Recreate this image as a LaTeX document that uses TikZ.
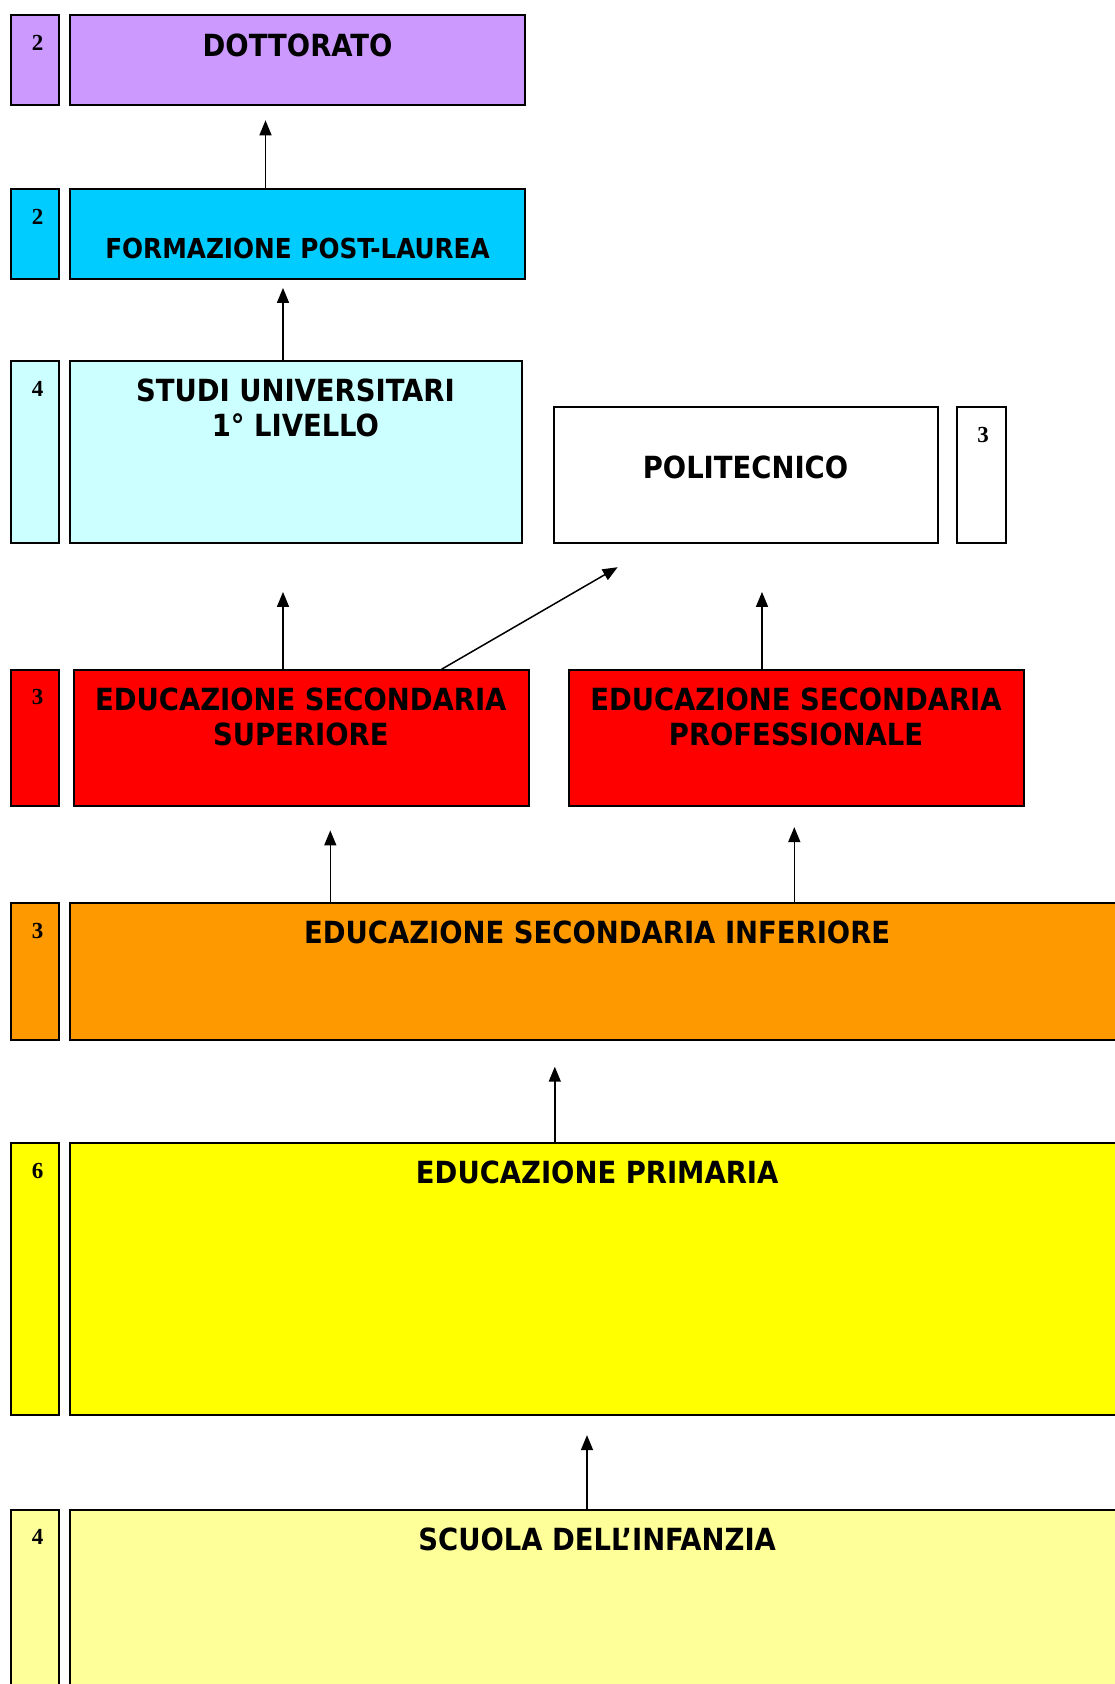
\documentclass[tikz,border=0pt]{standalone}
\usepackage{fontspec}
\setmainfont{DejaVu Sans Condensed}
\newfontfamily\numfont{Liberation Serif}
\usepackage{xcolor}
\usetikzlibrary{arrows.meta,positioning}
\definecolor{dottcol}{HTML}{CC99FF}
\definecolor{formcol}{HTML}{00CCFF}
\definecolor{studicol}{HTML}{CCFFFF}
\definecolor{seccol}{HTML}{FF0000}
\definecolor{infcol}{HTML}{FF9900}
\definecolor{primcol}{HTML}{FFFF00}
\definecolor{scuolacol}{HTML}{FFFF99}
\tikzset{
  stagebox/.style={
    draw=black,
    line width=2pt,
    rectangle,
    inner sep=0pt},
  numbox/.style={
    stagebox,
    minimum width=48.4pt},
  lbl/.style={
    font=\fontsize{30.5}{34.5}\selectfont\bfseries,
    align=center,
    inner sep=0pt},
  numlbl/.style={
    font=\fontsize{23}{23}\selectfont\numfont\bfseries,
    inner sep=0pt},
  arr/.style={
    -{Triangle[length=15pt,width=12pt]},
    line width=1.5pt}
  }
\begin{document}
\begin{tikzpicture}[x=1pt,y=-1pt]
    \useasboundingbox (0,0) rectangle (1115,1684);
    % boxes
    \node[stagebox, fill=dottcol, minimum width=455.5pt, minimum height=90.3pt] (dott) at (297.5,60.2) {};
    \node[numbox, fill=dottcol, minimum height=90.3pt] (dottn) at (34.9,60.2) {};
    \node[stagebox, fill=formcol, minimum width=455.5pt, minimum height=90.3pt] (form) at (297.5,234.2) {};
    \node[numbox, fill=formcol, minimum height=90.3pt] (formn) at (34.9,234.2) {};
    \node[stagebox, fill=studicol, minimum width=452.2pt, minimum height=181.5pt] (studi) at (295.9,451.8) {};
    \node[numbox, fill=studicol, minimum height=181.5pt] (studin) at (34.9,451.8) {};
    \node[stagebox, fill=white, minimum width=383.5pt, minimum height=135.4pt] (poli) at (746,474.8) {};
    \node[numbox, fill=white, minimum height=135.4pt] (polin) at (981.3,474.8) {};
    \node[stagebox, fill=seccol, minimum width=454.4pt, minimum height=135.4pt] (sup) at (301.3,738) {};
    \node[numbox, fill=seccol, minimum height=135.4pt] (supn) at (34.9,738) {};
    \node[stagebox, fill=seccol, minimum width=454.4pt, minimum height=135.4pt] (prof) at (796.5,738) {};
    \node[stagebox, fill=infcol, minimum width=1055.2pt, minimum height=136.4pt] (inf) at (597.4,971.6) {};
    \node[numbox, fill=infcol, minimum height=136.4pt] (infn) at (34.9,971.6) {};
    \node[stagebox, fill=primcol, minimum width=1055.2pt, minimum height=271.7pt] (prim) at (597.4,1278.9) {};
    \node[numbox, fill=primcol, minimum height=271.7pt] (primn) at (34.9,1278.9) {};
    \node[stagebox, fill=scuolacol, minimum width=1055.2pt, minimum height=190pt] (scuola) at (597.4,1605.3) {};
    \node[numbox, fill=scuolacol, minimum height=190pt] (scuolan) at (34.9,1605.3) {};
    % texts
    \node[lbl] (dotttxt) at (297.5,45) {DOTTORATO};
    \node[lbl, font=\fontsize{27.5}{30}\selectfont\bfseries] (formtxt) at (297.5,248) {FORMAZIONE POST-LAUREA};
    \node[lbl] (studitxt) at (295.4,408) {STUDI UNIVERSITARI\\1° LIVELLO};
    \node[lbl] (politxt) at (745.5,467.3) {POLITECNICO};
    \node[lbl] (suptxt) at (300.8,717) {EDUCAZIONE SECONDARIA\\SUPERIORE};
    \node[lbl] (proftxt) at (796,717) {EDUCAZIONE SECONDARIA\\PROFESSIONALE};
    \node[lbl] (inftxt) at (597.2,932.4) {EDUCAZIONE SECONDARIA INFERIORE};
    \node[lbl] (primtxt) at (597.2,1172) {EDUCAZIONE PRIMARIA};
    \node[lbl] (scuolatxt) at (597.2,1539.3) {SCUOLA DELL’INFANZIA};
    % years
    \node[numlbl] (dottyr) at (37.6,43) {2};
    \node[numlbl] (formyr) at (37.6,217) {2};
    \node[numlbl] (studiyr) at (37.6,389) {4};
    \node[numlbl] (poliyr) at (983,435) {3};
    \node[numlbl] (supyr) at (37.6,697) {3};
    \node[numlbl] (infyr) at (37.6,931) {3};
    \node[numlbl] (primyr) at (37.6,1171) {6};
    \node[numlbl] (scuolayr) at (37.6,1537) {4};
    % arrow tips
    \coordinate (tdott) at (265.5,120.3);
    \coordinate (tform) at (283,287.9);
    \coordinate (tstudi) at (283,591.9);
    \coordinate (tpoli) at (617.7,567.2);
    \coordinate (tpolib) at (762,591.9);
    \coordinate (tsup) at (330.3,830.4);
    \coordinate (tprof) at (794.3,827.1);
    \coordinate (tinf) at (554.8,1066.7);
    \coordinate (tprim) at (587,1435.1);
    \draw [arr]
      (tdott |- form.north) -- (tdott);
    \draw [arr]
      (tform |- studi.north) -- (tform);
    \draw [arr]
      (tstudi |- sup.north) -- (tstudi);
    \draw [arr]
      (441.5,0 |- sup.north) -- (tpoli);
    \draw [arr]
      (tpolib |- prof.north) -- (tpolib);
    \draw [arr]
      (tsup |- inf.north) -- (tsup);
    \draw [arr]
      (tprof |- inf.north) -- (tprof);
    \draw [arr]
      (tinf |- prim.north) -- (tinf);
    \draw [arr]
      (tprim |- scuola.north) -- (tprim);
  \end{tikzpicture}
\end{document}
